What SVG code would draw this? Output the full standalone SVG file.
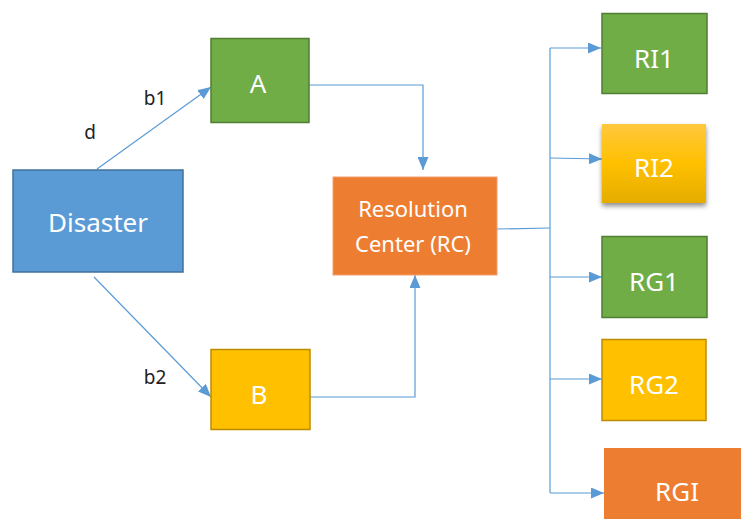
<svg xmlns="http://www.w3.org/2000/svg" width="742" height="519" viewBox="0 0 742 519">
  <style>
    .lbl { font-family: "Noto Sans", "Open Sans", "Liberation Sans", sans-serif; fill: #ffffff; text-anchor: middle; }
    .big { font-size: 26px; }
    .mid { font-size: 22px; }
    .edge-lbl { font-family: "Noto Sans", "Open Sans", "Liberation Sans", sans-serif; font-size: 19px; fill: #222222; text-anchor: middle; }
    .blue { fill: #5B9BD5; stroke: #41719C; stroke-width: 1.5; }
    .green { fill: #70AD47; stroke: #507E32; stroke-width: 1.5; }
    .yellow { fill: #FFC000; stroke: #BC8C00; stroke-width: 1.5; }
    .orange { fill: #ED7D31; stroke: #F0A070; stroke-width: 1; }
    .conn { fill: none; stroke: #5B9BD5; stroke-width: 1.2; marker-end: url(#arrow); }
    .plain { fill: none; stroke: #5B9BD5; stroke-width: 1.2; }
  </style>
  <defs>
    <marker id="arrow" markerUnits="userSpaceOnUse" markerWidth="14" markerHeight="11" refX="13" refY="5.5" orient="auto">
      <path d="M0,0 L13,5.5 L0,11 Z" fill="#5B9BD5"/>
    </marker>
    <linearGradient id="gold" x1="0" y1="0" x2="0" y2="1">
      <stop offset="0" stop-color="#FFC83D"/>
      <stop offset="0.5" stop-color="#FFC000"/>
      <stop offset="1" stop-color="#E5AC00"/>
    </linearGradient>
    <filter id="shadow" x="-20%" y="-20%" width="140%" height="150%">
      <feDropShadow dx="0" dy="3" stdDeviation="2.5" flood-color="#000000" flood-opacity="0.45"/>
    </filter>
  </defs>

  <g id="connectors">
    <path class="conn" d="M97,169 L211,87"/>
    <path class="conn" d="M94,277 L211,397"/>
    <path class="conn" d="M309,85 L423,85 L423,170"/>
    <path class="conn" d="M310,397 L415,397 L415,275"/>
    <path class="plain" d="M497,229 L550,228"/>
    <path class="plain" d="M550,48 L550,493"/>
    <path class="conn" d="M550,48 L601,48"/>
    <path class="conn" d="M550,158 L602,159"/>
    <path class="conn" d="M550,277 L602,277"/>
    <path class="conn" d="M550,379 L602,379"/>
    <path class="conn" d="M550,493 L604,493"/>
  </g>

  <g id="edge-labels">
    <text class="edge-lbl" x="155" y="105">b1</text>
    <text class="edge-lbl" x="90" y="139">d</text>
    <text class="edge-lbl" x="155" y="384">b2</text>
  </g>

  <g id="disaster">
    <rect class="blue" x="13" y="170" width="170" height="102"/>
    <text class="lbl big" x="98" y="232">Disaster</text>
  </g>

  <g id="node-a">
    <rect class="green" x="211" y="38.5" width="98" height="84"/>
    <text class="lbl big" x="258" y="93">A</text>
  </g>

  <g id="node-b">
    <rect class="yellow" x="211" y="349.5" width="99" height="80"/>
    <text class="lbl big" x="259" y="404">B</text>
  </g>

  <g id="resolution-center">
    <rect class="orange" x="333" y="177" width="164" height="98"/>
    <text class="lbl mid" x="413" y="217">Resolution</text>
    <text class="lbl mid" x="413" y="252">Center (RC)</text>
  </g>

  <g id="ri1">
    <rect class="green" x="602" y="13.5" width="105" height="80"/>
    <text class="lbl big" x="654" y="68">RI1</text>
  </g>

  <g id="ri2">
    <rect x="602" y="124" width="104" height="79" fill="url(#gold)" filter="url(#shadow)"/>
    <text class="lbl big" x="654" y="177">RI2</text>
  </g>

  <g id="rg1">
    <rect class="green" x="602" y="236.5" width="105" height="81"/>
    <text class="lbl big" x="654" y="291">RG1</text>
  </g>

  <g id="rg2">
    <rect class="yellow" x="602" y="339.5" width="104" height="81"/>
    <text class="lbl big" x="654" y="394">RG2</text>
  </g>

  <g id="rgi">
    <rect x="604" y="448" width="137" height="71" fill="#ED7D31"/>
    <text class="lbl big" x="677" y="501">RGI</text>
  </g>
</svg>
